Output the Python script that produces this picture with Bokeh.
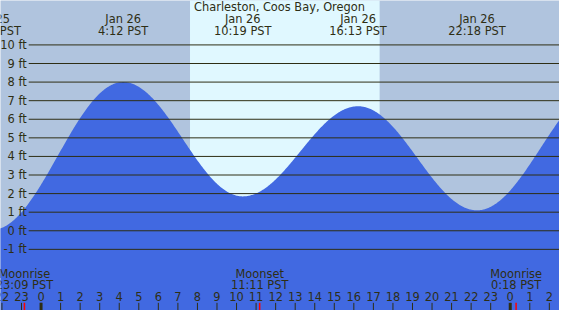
import numpy as np
from bokeh.plotting import figure
from bokeh.models import Range1d
from bokeh.embed import file_html
from bokeh.resources import INLINE
from bokeh.core.properties import value

# ---- data (hours relative to Jan 26 00:00 PST) ----
tide_hours = [-2.5, 4.2, 10.317, 16.217, 22.3, 28.8]
tide_feet = [0.05, 8.0, 1.85, 6.7, 1.1, 7.8]
# labels of the extremes that fall inside the chart
label_hours = [-2.5, 4.2, 10.317, 16.217, 22.3]
tide_days = ["Jan 25", "Jan 26", "Jan 26", "Jan 26", "Jan 26"]
tide_times = ["21:30 PST", "4:12 PST", "10:19 PST", "16:13 PST", "22:18 PST"]

moon_hours = [-0.85, 11.183, 24.3]
moon_events = ["Moonrise", "Moonset", "Moonrise"]
moon_times = ["23:09 PST", "11:11 PST", "0:18 PST"]

sunrise_hour = 7.62
sunset_hour = 17.32

hour_positions = [-2, -1, 0, 1, 2, 3, 4, 5, 6, 7, 8, 9, 10, 11, 12, 13, 14,
                  15, 16, 17, 18, 19, 20, 21, 22, 23, 24, 25, 26]
hour_labels = ["22", "23", "0", "1", "2", "3", "4", "5", "6", "7", "8", "9",
               "10", "11", "12", "13", "14", "15", "16", "17", "18", "19",
               "20", "21", "22", "23", "0", "1", "2"]
midnight_hours = [0, 24]

ft_levels = [-1, 0, 1, 2, 3, 4, 5, 6, 7, 8, 9, 10]
ft_labels = ["-1 ft", "0 ft", "1 ft", "2 ft", "3 ft", "4 ft", "5 ft",
             "6 ft", "7 ft", "8 ft", "9 ft", "10 ft"]

title_text = "Charleston, Coos Bay, Oregon"

# ---- styles ----
NIGHT = "#b0c4de"
DAY = "#e0f8ff"
WATER = "#4169e1"
INK = "#2e2e14"
FONT = value("DejaVu Sans")
FS = "11.4px"

X0, X1 = -2.074, 26.52
Y0, Y1 = -4.29, 12.39

p = figure(width=559, height=310, output_backend="svg", toolbar_location=None,
           x_range=Range1d(X0, X1), y_range=Range1d(Y0, Y1),
           min_border=0, outline_line_color=None,
           background_fill_color=NIGHT, border_fill_color=NIGHT)
p.axis.visible = False
p.grid.visible = False

# daylight band
p.quad(left=[sunrise_hour], right=[sunset_hour], bottom=[Y0 - 1], top=[Y1 + 1],
       fill_color=DAY, line_color=None)

# tide curve (cosine between successive extremes)
t = np.linspace(X0 - 0.1, X1 + 0.1, 800)
h = np.zeros_like(t)
for i in range(len(tide_hours) - 1):
    a, b = tide_hours[i], tide_hours[i + 1]
    m = (t >= a) & (t <= b)
    frac = (1 - np.cos(np.pi * (t[m] - a) / (b - a))) / 2
    h[m] = tide_feet[i] + (tide_feet[i + 1] - tide_feet[i]) * frac
xs = np.concatenate([[t[0]], t, [t[-1]]])
ys = np.concatenate([[Y0 - 1], h, [Y0 - 1]])
p.patch(xs, ys, fill_color=WATER, line_color=None)

# horizontal level lines
line_start = -0.632
p.segment(x0=[line_start] * len(ft_levels), y0=ft_levels,
          x1=[X1 + 1] * len(ft_levels), y1=ft_levels,
          line_color=INK, line_width=1)
p.text(x=[-0.731] * len(ft_levels), y=ft_levels, text=ft_labels,
       text_align="right", text_baseline="middle", text_color=INK,
       text_font=FONT, text_font_size=FS)


def ypix(y_ref):
    return (242.2 - y_ref) / 19.545


# top labels
p.text(x=[(287 - 41.7) / 20.11], y=[ypix(7.2)], text=[title_text],
       text_align="center", text_baseline="middle", text_color=INK,
       text_font=FONT, text_font_size=FS)
p.text(x=label_hours, y=[ypix(19.5)] * len(label_hours), text=tide_days,
       text_align="center", text_baseline="middle", text_color=INK,
       text_font=FONT, text_font_size=FS)
p.text(x=label_hours, y=[ypix(31.8)] * len(label_hours), text=tide_times,
       text_align="center", text_baseline="middle", text_color=INK,
       text_font=FONT, text_font_size=FS)

# moon labels
p.text(x=moon_hours, y=[ypix(287.5)] * len(moon_hours), text=moon_events,
       text_align="center", text_baseline="middle", text_color=INK,
       text_font=FONT, text_font_size=FS)
p.text(x=moon_hours, y=[ypix(299)] * len(moon_hours), text=moon_times,
       text_align="center", text_baseline="middle", text_color=INK,
       text_font=FONT, text_font_size=FS)

# hour labels and ticks
p.text(x=hour_positions, y=[ypix(311.5)] * len(hour_positions), text=hour_labels,
       text_align="center", text_baseline="middle", text_color=INK,
       text_font=FONT, text_font_size=FS)
tick_top = ypix(318)
p.segment(x0=hour_positions, y0=[Y0 - 1] * len(hour_positions),
          x1=hour_positions, y1=[tick_top] * len(hour_positions),
          line_color=INK, line_width=1)
p.segment(x0=midnight_hours, y0=[Y0 - 1] * len(midnight_hours),
          x1=midnight_hours, y1=[tick_top] * len(midnight_hours),
          line_color=INK, line_width=3)
p.segment(x0=moon_hours, y0=[Y0 - 1] * len(moon_hours),
          x1=moon_hours, y1=[tick_top] * len(moon_hours),
          line_color="#ff0000", line_width=1.5)

open("out.html", "w").write(file_html(p, INLINE))
